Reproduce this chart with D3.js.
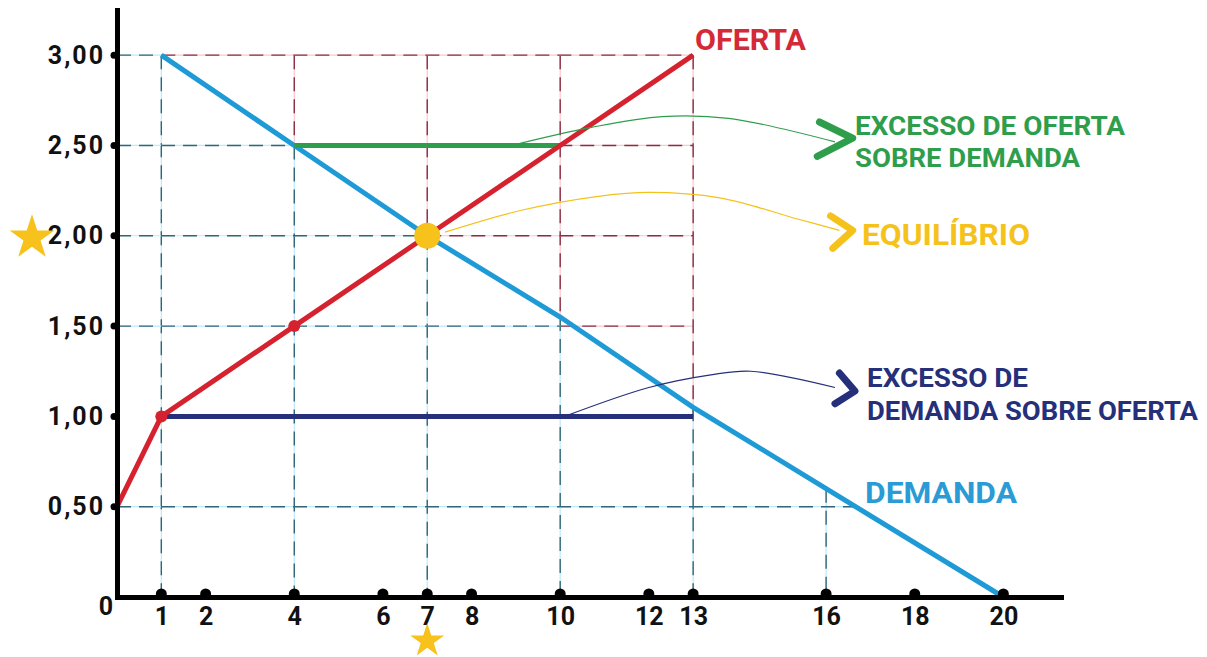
<!DOCTYPE html>
<html>
<head>
<meta charset="utf-8">
<script src="https://cdn.jsdelivr.net/npm/d3@7"></script>
<style>
  body { margin: 0; background: #fff; }
  text { font-family: Roboto, "DejaVu Sans", sans-serif; font-weight: 700; }
</style>
</head>
<body>
<div id="chart"></div>
<script>
// Quantities and prices
const xTicks = [1, 2, 4, 6, 7, 8, 10, 12, 13, 16, 18, 20];
const yTicks = [0.5, 1, 1.5, 2, 2.5, 3];

const supplyQ = [0, 1, 4, 7, 10, 13];
const supplyP = [0.5, 1, 1.5, 2, 2.5, 3];

const demandQ = [1, 4, 7, 10, 13, 16, 20];
const demandP = [3, 2.5, 2, 1.55, 1.05, 0.6, 0];

// excess of supply at 2,50 and excess of demand at 1,00
const excessSupply = [[4, 2.5], [10, 2.5]];
const excessDemand = [[1, 1], [13, 1]];
const equilibrium = [7, 2];
const supplyDots = [[1, 1], [4, 1.5]];

// dashed guides: blue ones down to the axes, red ones up to the 3,00 / 13 box
const blueV = [[1, 3], [4, 2.5], [7, 2], [10, 1.55], [13, 1.05], [16, 0.6]];
const blueH = [[1, 3], [4, 2.5], [7, 2], [10, 1.5], [16.7, 0.5]];
const redV = [[4, 2.5], [7, 2], [10, 1.55], [13, 1]];
const redH = [[1, 3], [4, 2.5], [7, 2], [10, 1.5]];

// annotation curves (data units) and their labels
const notes = [
  { color: "#2f9e4c", curve: [[8.9, 2.5], [10.7, 2.6], [12.3, 2.66], [13.8, 2.65], [16.2, 2.52]],
    chevron: [[15.85, 2.63], [16.6, 2.54], [15.8, 2.44]],
    lines: ["EXCESSO DE OFERTA", "SOBRE DEMANDA"] },
  { color: "#f5c21b", curve: [[7.4, 2.02], [9.1, 2.14], [10.9, 2.22], [12.0, 2.24], [13.6, 2.21], [15.4, 2.09], [16.3, 2.03]],
    chevron: [[16.1, 2.11], [16.6, 2.03], [16.15, 1.93]],
    lines: ["EQUILÍBRIO"] },
  { color: "#26307a", curve: [[10.1, 1.0], [12.0, 1.16], [13.4, 1.23], [14.3, 1.25], [16.2, 1.16]],
    chevron: [[16.3, 1.24], [16.65, 1.14], [16.2, 1.07]],
    lines: ["EXCESSO DE", "DEMANDA SOBRE OFERTA"] }
];

let svgWidth = 1207;
let svgHeight = 657;

let svg = d3.select("#chart")
  .append("svg")
  .attr("width", svgWidth)
  .attr("height", svgHeight);

let x = d3.scaleLinear().domain([0, 21.3]).range([117, 1061]);
let y = d3.scaleLinear().domain([0, 3.25]).range([597, 10]);

// guides: light halo under a darker dash
function guide(x1, y1, x2, y2, halo, dash) {
  [[halo, 1.2, null], [dash, 1.4, "14,8"]].forEach(([c, w, d]) => {
    svg.append("line")
      .attr("x1", x(x1)).attr("y1", y(y1))
      .attr("x2", x(x2)).attr("y2", y(y2))
      .attr("stroke", c)
      .attr("stroke-width", w)
      .attr("stroke-dasharray", d);
  });
}

redV.forEach(([q, p]) => guide(q, 3, q, p, "#f4c9cf", "#8c2c42"));
redH.forEach(([q, p]) => guide(q, p, 13, p, "#f4c9cf", "#8c2c42"));
blueV.forEach(([q, p]) => guide(q, p, q, 0, "#bdeaf7", "#2f6678"));
blueH.forEach(([q, p]) => guide(0, p, q, p, "#bdeaf7", "#2f6678"));

let line = d3.line().x(d => x(d[0])).y(d => y(d[1]));

// demand and supply
svg.append("path")
  .datum(demandQ.map((q, i) => [q, demandP[i]]))
  .attr("d", line)
  .attr("fill", "none")
  .attr("stroke", "#1e9ad6")
  .attr("stroke-width", 5);

svg.append("path")
  .datum(excessSupply)
  .attr("d", line)
  .attr("stroke", "#2f9e4c")
  .attr("stroke-width", 5);

svg.append("path")
  .datum(excessDemand)
  .attr("d", line)
  .attr("stroke", "#26307a")
  .attr("stroke-width", 5);

svg.append("path")
  .datum(supplyQ.map((q, i) => [q, supplyP[i]]))
  .attr("d", line)
  .attr("fill", "none")
  .attr("stroke", "#d6222f")
  .attr("stroke-width", 5)
  .attr("stroke-linejoin", "round");

svg.selectAll(".sdot")
  .data(supplyDots)
  .enter()
  .append("circle")
  .attr("cx", d => x(d[0]))
  .attr("cy", d => y(d[1]))
  .attr("r", 6)
  .attr("fill", "#d6222f");

// annotations
let curve = d3.line().x(d => x(d[0])).y(d => y(d[1])).curve(d3.curveCatmullRom);
notes.forEach(n => {
  svg.append("path")
    .datum(n.curve)
    .attr("d", curve)
    .attr("fill", "none")
    .attr("stroke", n.color)
    .attr("stroke-width", 1.2);
  svg.append("path")
    .datum(n.chevron)
    .attr("d", line)
    .attr("fill", "none")
    .attr("stroke", n.color)
    .attr("stroke-width", 7)
    .attr("stroke-linecap", "round")
    .attr("stroke-linejoin", "round");
});

svg.append("circle")
  .attr("cx", x(equilibrium[0]))
  .attr("cy", y(equilibrium[1]))
  .attr("r", 13)
  .attr("fill", "#f7c21b");

// axes
let leftAxis = d3.axisLeft(y)
  .tickValues(yTicks)
  .tickSize(0)
  .tickSizeOuter(0)
  .tickPadding(12)
  .tickFormat(d => d3.format(".2f")(d).replace(".", ","));

let yAxisG = svg.append("g")
  .attr("transform", `translate(${x(0)},0)`)
  .call(leftAxis);

let bottomAxis = d3.axisBottom(x)
  .tickValues(xTicks)
  .tickSize(0)
  .tickSizeOuter(0)
  .tickPadding(10);

let xAxisG = svg.append("g")
  .attr("transform", `translate(0,${y(0)})`)
  .call(bottomAxis);

[yAxisG, xAxisG].forEach(g => {
  g.select(".domain")
    .attr("stroke", "#000")
    .attr("stroke-width", 5)
    .attr("stroke-linecap", "square");
  g.selectAll("text")
    .attr("fill", "#111")
    .style("font-size", "25px");
});
yAxisG.selectAll("text").style("letter-spacing", "2px");

svg.selectAll(".ydot")
  .data(yTicks)
  .enter()
  .append("circle")
  .attr("cx", x(0) - 3)
  .attr("cy", d => y(d))
  .attr("r", 3.5)
  .attr("fill", "#000");

svg.selectAll(".xdot")
  .data(xTicks)
  .enter()
  .append("circle")
  .attr("cx", d => x(d))
  .attr("cy", y(0) - 3)
  .attr("r", 5.5)
  .attr("fill", "#000");

svg.append("text")
  .attr("x", x(0) - 4)
  .attr("y", y(0) + 18)
  .attr("text-anchor", "end")
  .attr("fill", "#111")
  .style("font-size", "25px")
  .text("0");

// curve names
svg.append("text")
  .attr("x", 695).attr("y", 50)
  .attr("fill", "#d42a37")
  .attr("textLength", 111).attr("lengthAdjust", "spacingAndGlyphs")
  .style("font-size", "30px")
  .text("OFERTA");

svg.append("text")
  .attr("x", 865).attr("y", 503)
  .attr("fill", "#2a9bd5")
  .attr("textLength", 152).attr("lengthAdjust", "spacingAndGlyphs")
  .style("font-size", "29px")
  .text("DEMANDA");

// annotation labels
let labelSpecs = [
  { x: 855, y: 135, w: 270, size: 25, text: notes[0].lines[0], color: notes[0].color },
  { x: 855, y: 167, w: 225, size: 25, text: notes[0].lines[1], color: notes[0].color },
  { x: 862, y: 245, w: 168, size: 30, text: notes[1].lines[0], color: notes[1].color },
  { x: 867, y: 387, w: 161, size: 26, text: notes[2].lines[0], color: notes[2].color },
  { x: 867, y: 420, w: 331, size: 26, text: notes[2].lines[1], color: notes[2].color }
];
labelSpecs.forEach(l => {
  svg.append("text")
    .attr("x", l.x).attr("y", l.y)
    .attr("fill", l.color)
    .attr("textLength", l.w).attr("lengthAdjust", "spacingAndGlyphs")
    .style("font-size", l.size + "px")
    .text(l.text);
});

// stars marking the equilibrium price and quantity
let star = d3.symbol().type(d3.symbolStar);
svg.append("path")
  .attr("d", star.size(620)())
  .attr("transform", `translate(${x(0) - 85},${y(equilibrium[1]) + 2})`)
  .attr("fill", "#f7c21b");
svg.append("path")
  .attr("d", star.size(360)())
  .attr("transform", `translate(${x(equilibrium[0])},${y(0) + 44})`)
  .attr("fill", "#f7c21b");
</script>
</body>
</html>
